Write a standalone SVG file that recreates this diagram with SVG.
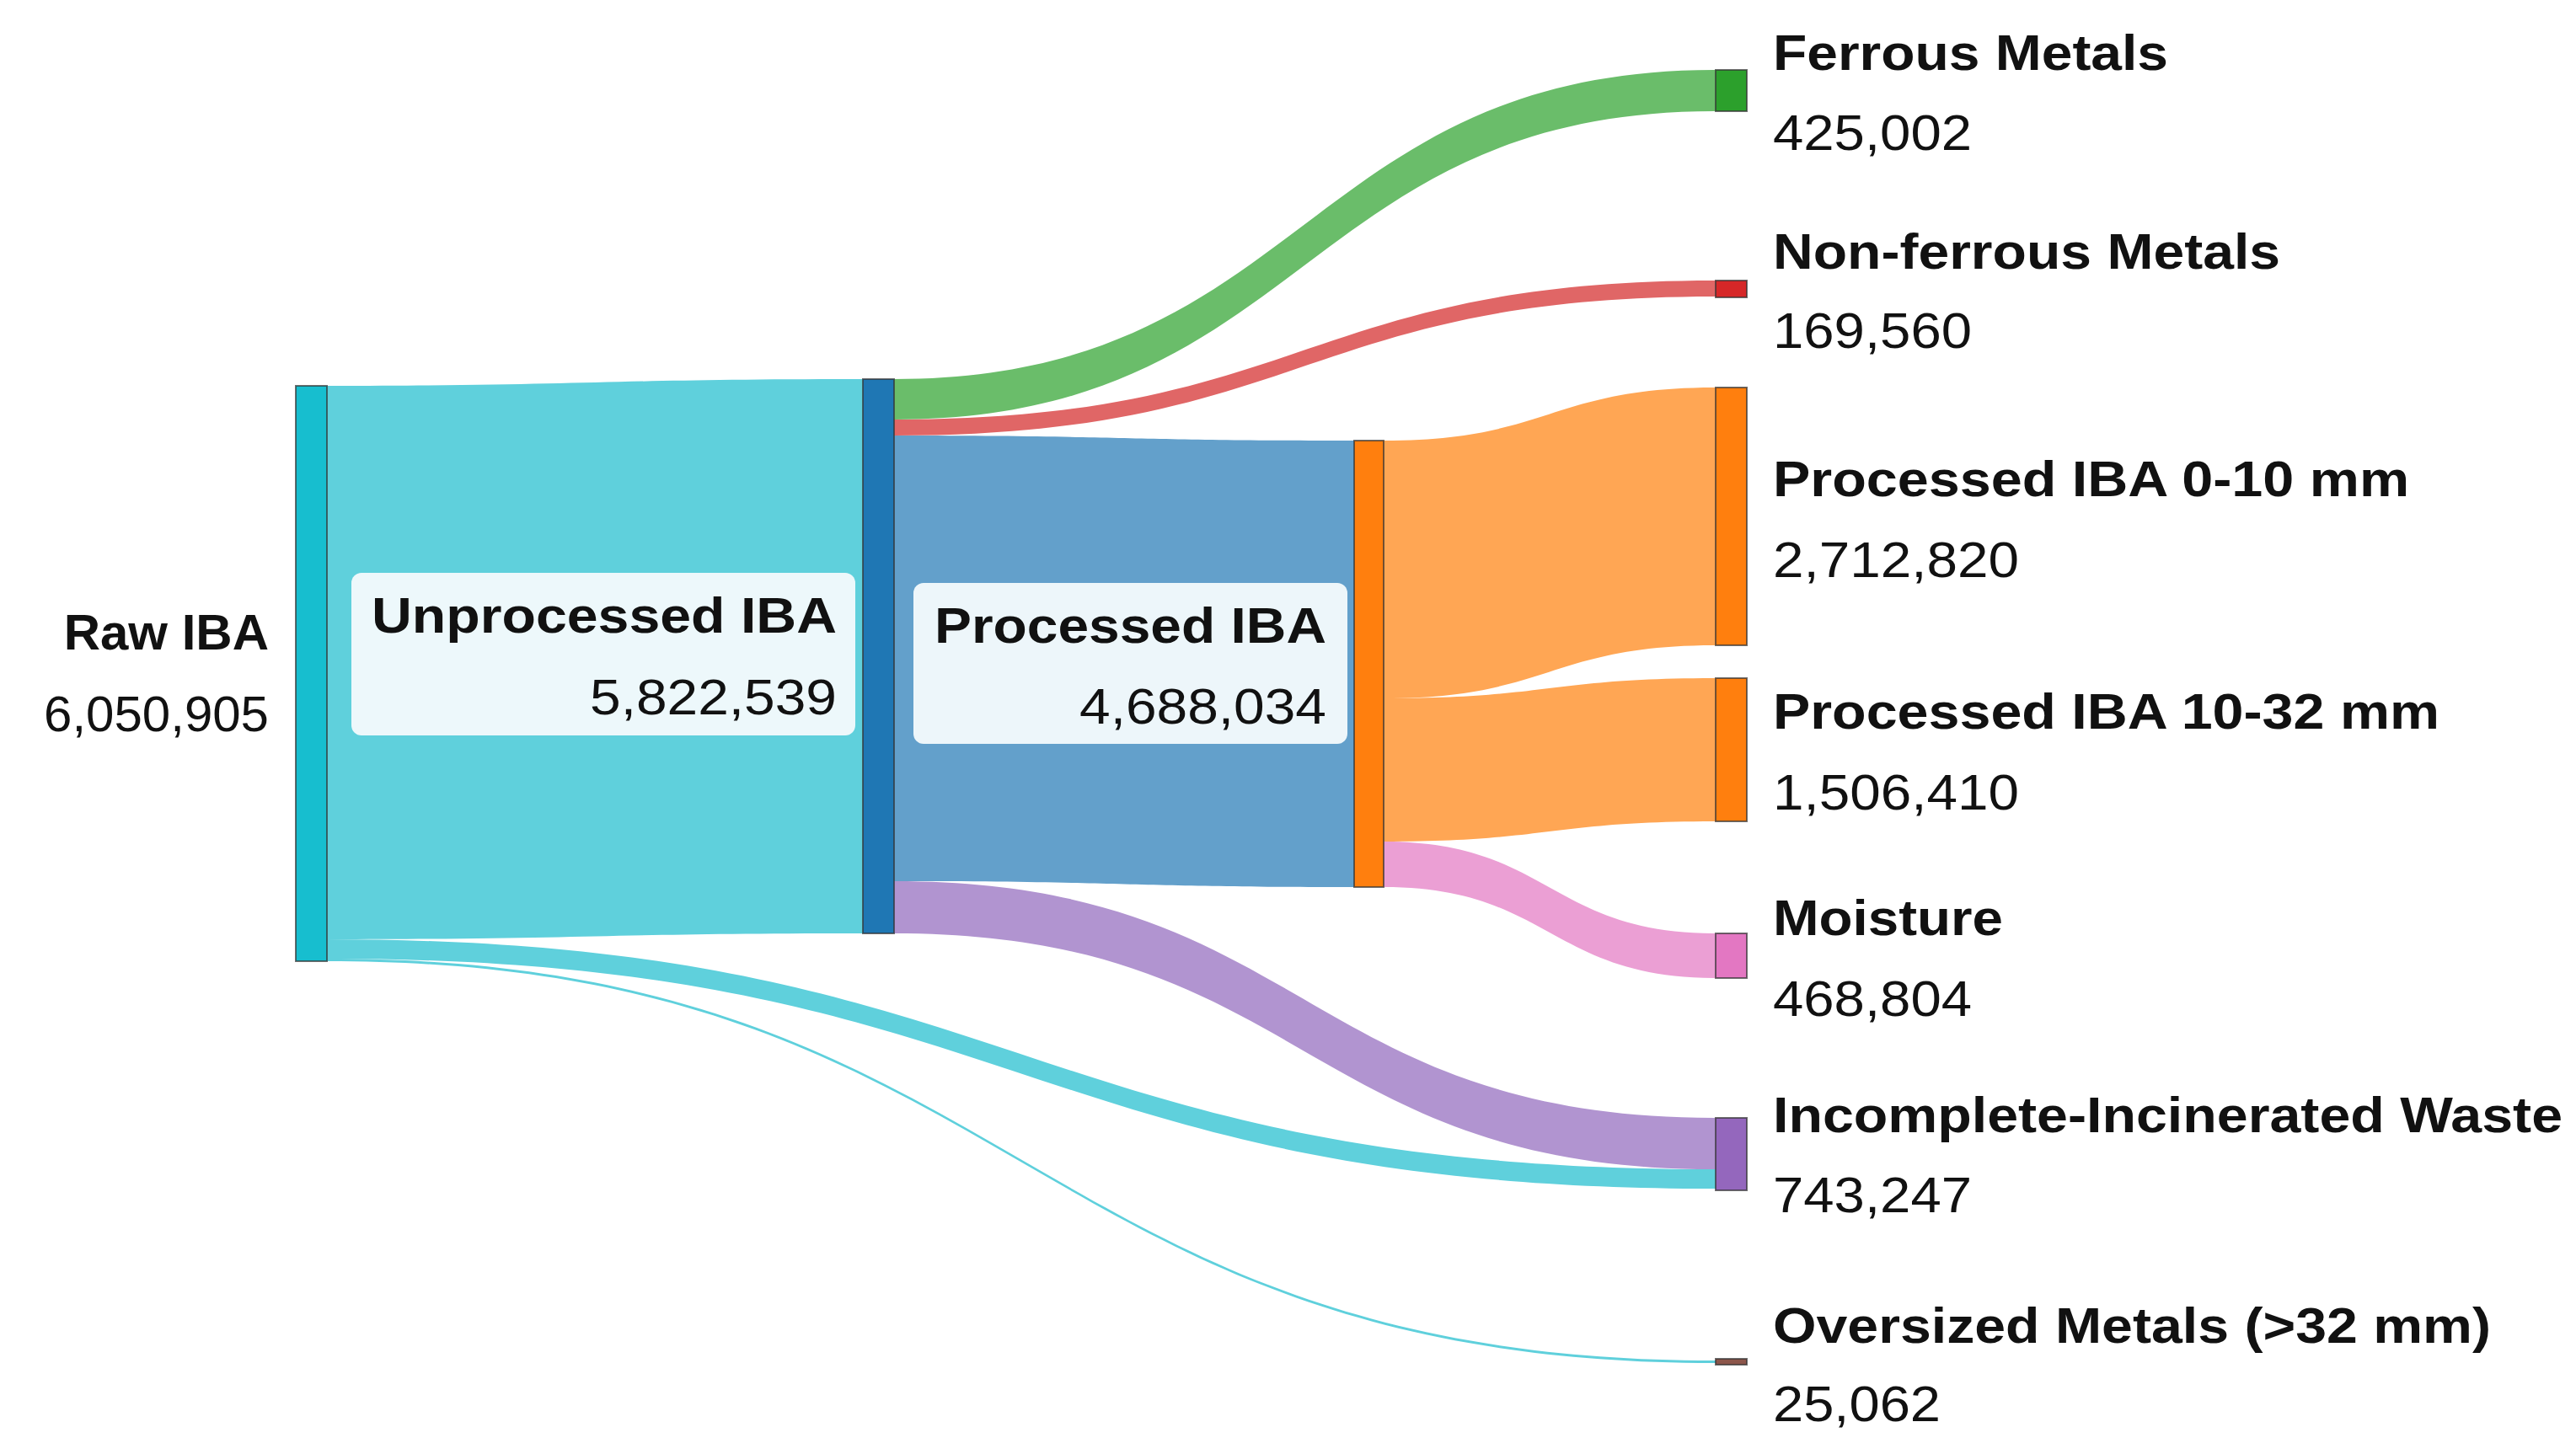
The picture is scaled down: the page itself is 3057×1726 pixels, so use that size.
<svg xmlns="http://www.w3.org/2000/svg" width="3057" height="1726" viewBox="0 0 3057 1726">
<style>
.n{stroke:#333;stroke-width:2;stroke-opacity:0.7}
.lb{font-family:"Liberation Sans",Arial,sans-serif;font-weight:bold;font-size:60px;fill:#111}
.v{font-family:"Liberation Sans",Arial,sans-serif;font-size:60px;fill:#111}
.box{fill:#f2fafc;fill-opacity:0.96}
</style>
<rect width="3057" height="1726" fill="#fff"/>
<g id="links">
<path d="M388 458 C706 458 706 450 1024 450 L1024 1108 C706 1108 706 1115 388 1115 Z" fill="#5fd0dc"/>
<path d="M388 1115 C1212 1115 1212 1388 2036 1388 L2036 1411 C1212 1411 1212 1138 388 1138 Z" fill="#5fd0dc"/>
<path d="M388 1138 C1212 1138 1212 1615 2036 1615 L2036 1618 C1212 1618 1212 1141 388 1141 Z" fill="#5fd0dc"/>
<path d="M1061 450 C1548 450 1548 83 2036 83 L2036 132 C1548 132 1548 498 1061 498 Z" fill="#6abd6a"/>
<path d="M1061 498 C1548 498 1548 333 2036 333 L2036 352 C1548 352 1548 517 1061 517 Z" fill="#e06666"/>
<path d="M1061 517 C1334 517 1334 523 1607 523 L1607 1053 C1334 1053 1334 1046 1061 1046 Z" fill="#63a0cb"/>
<path d="M1061 1046 C1548 1046 1548 1327 2036 1327 L2036 1388 C1548 1388 1548 1108 1061 1108 Z" fill="#b194d0"/>
<path d="M1642 523 C1839 523 1839 460 2036 460 L2036 766 C1839 766 1839 829 1642 829 Z" fill="#ffa654"/>
<path d="M1642 829 C1839 829 1839 805 2036 805 L2036 975 C1839 975 1839 999 1642 999 Z" fill="#ffa654"/>
<path d="M1642 999 C1839 999 1839 1108 2036 1108 L2036 1161 C1839 1161 1839 1053 1642 1053 Z" fill="#eb9fd4"/>
</g>
<g id="raw"><rect class="n" x="351" y="458" width="37" height="683" fill="#17becf"/>
<text class="lb" x="319" y="771" text-anchor="end">Raw IBA</text>
<text class="v" x="319" y="868" text-anchor="end">6,050,905</text></g>
<g id="unprocessed"><rect class="n" x="1024" y="450" width="37" height="658" fill="#1f77b4"/>
<rect class="box" x="417" y="680" width="598" height="193" rx="12"/>
<text class="lb" x="993" y="751" text-anchor="end" textLength="552" lengthAdjust="spacingAndGlyphs">Unprocessed IBA</text>
<text class="v" x="993" y="848" text-anchor="end" textLength="293" lengthAdjust="spacingAndGlyphs">5,822,539</text></g>
<g id="processed"><rect class="n" x="1607" y="523" width="35" height="530" fill="#ff7f0e"/>
<rect class="box" x="1084" y="692" width="515" height="191" rx="12"/>
<text class="lb" x="1574" y="763" text-anchor="end" textLength="465" lengthAdjust="spacingAndGlyphs">Processed IBA</text>
<text class="v" x="1574" y="859" text-anchor="end" textLength="293" lengthAdjust="spacingAndGlyphs">4,688,034</text></g>
<g id="ferrous"><rect class="n" x="2036" y="83" width="37" height="49" fill="#2ca02c"/>
<text class="lb" x="2104" y="83" textLength="469" lengthAdjust="spacingAndGlyphs">Ferrous Metals</text>
<text class="v" x="2104" y="178" textLength="236" lengthAdjust="spacingAndGlyphs">425,002</text></g>
<g id="nonferrous"><rect class="n" x="2036" y="333" width="37" height="20" fill="#d62728"/>
<text class="lb" x="2104" y="319" textLength="602" lengthAdjust="spacingAndGlyphs">Non-ferrous Metals</text>
<text class="v" x="2104" y="413" textLength="236" lengthAdjust="spacingAndGlyphs">169,560</text></g>
<g id="p010"><rect class="n" x="2036" y="460" width="37" height="306" fill="#ff7f0e"/>
<text class="lb" x="2104" y="589" textLength="755" lengthAdjust="spacingAndGlyphs">Processed IBA 0-10 mm</text>
<text class="v" x="2104" y="685" textLength="292" lengthAdjust="spacingAndGlyphs">2,712,820</text></g>
<g id="p1032"><rect class="n" x="2036" y="805" width="37" height="170" fill="#ff7f0e"/>
<text class="lb" x="2104" y="865" textLength="791" lengthAdjust="spacingAndGlyphs">Processed IBA 10-32 mm</text>
<text class="v" x="2104" y="961" textLength="292" lengthAdjust="spacingAndGlyphs">1,506,410</text></g>
<g id="moisture"><rect class="n" x="2036" y="1108" width="37" height="53" fill="#e377c2"/>
<text class="lb" x="2104" y="1110" textLength="273" lengthAdjust="spacingAndGlyphs">Moisture</text>
<text class="v" x="2104" y="1206" textLength="236" lengthAdjust="spacingAndGlyphs">468,804</text></g>
<g id="incomplete"><rect class="n" x="2036" y="1327" width="37" height="86" fill="#9467bd"/>
<text class="lb" x="2104" y="1344" textLength="937" lengthAdjust="spacingAndGlyphs">Incomplete-Incinerated Waste</text>
<text class="v" x="2104" y="1439" textLength="236" lengthAdjust="spacingAndGlyphs">743,247</text></g>
<g id="oversized"><rect class="n" x="2036" y="1613" width="37" height="7" fill="#8c564b"/>
<text class="lb" x="2104" y="1594" textLength="852" lengthAdjust="spacingAndGlyphs">Oversized Metals (&gt;32 mm)</text>
<text class="v" x="2104" y="1687" textLength="199" lengthAdjust="spacingAndGlyphs">25,062</text></g>
</svg>
